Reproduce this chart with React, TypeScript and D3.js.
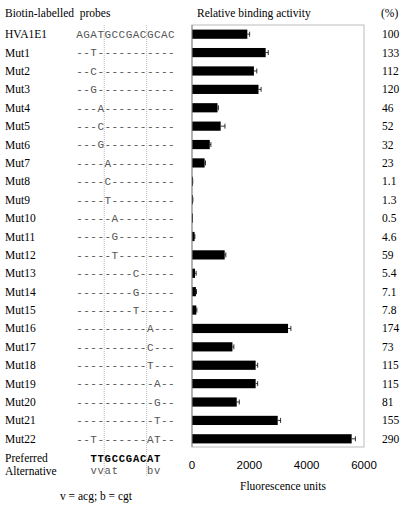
import React from 'react';
import * as d3 from 'd3';

// probe names, top to bottom
const probes = [
  'HVA1E1', 'Mut1', 'Mut2', 'Mut3', 'Mut4', 'Mut5', 'Mut6', 'Mut7', 'Mut8', 'Mut9', 'Mut10', 'Mut11',
  'Mut12', 'Mut13', 'Mut14', 'Mut15', 'Mut16', 'Mut17', 'Mut18', 'Mut19', 'Mut20', 'Mut21', 'Mut22',
];

const sequences = [
  'AGATGCCGACGCAC',
  '--T-----------',
  '--C-----------',
  '--G-----------',
  '---A----------',
  '---C----------',
  '---G----------',
  '----A---------',
  '----C---------',
  '----T---------',
  '-----A--------',
  '-----G--------',
  '-----T--------',
  '--------C-----',
  '--------G-----',
  '--------T-----',
  '----------A---',
  '----------C---',
  '----------T---',
  '-----------A--',
  '-----------G--',
  '-----------T--',
  '--T-------AT--',
];

// fluorescence units
const fluorescence = [
  1930, 2570, 2160, 2320, 890, 1000, 620, 440, 21, 25, 10, 90,
  1140, 105, 137, 150, 3350, 1410, 2220, 2220, 1560, 2990, 5570,
];

const errors = [
  80, 90, 100, 90, 30, 150, 40, 30, 5, 5, 5, 10,
  40, 40, 20, 20, 100, 50, 70, 70, 90, 100, 130,
];

const percents = [
  '100', '133', '112', '120', '46', '52', '32', '23', '1.1', '1.3', '0.5', '4.6',
  '59', '5.4', '7.1', '7.8', '174', '73', '115', '115', '81', '155', '290',
];

const xTicks = [0, 2000, 4000, 6000];

const preferred = '  TTGCCGACAT';
const alternative = '  vvat    bv';

const W = 403;
const H = 505;
const serif = '"Liberation Serif", "Times New Roman", serif';
const mono = '"Liberation Mono", "Courier New", monospace';
const sans = '"Liberation Sans", Arial, sans-serif';

export default function App() {
  const x = d3.scaleLinear().domain([0, 6000]).range([192, 364]);
  const y = d3.scaleBand<string>().domain(probes).range([25, 448]).paddingInner(0.5).paddingOuter(0.25);
  const cy = (p: string) => (y(p) || 0) + y.bandwidth() / 2;

  const seqX0 = 79.5;
  const cw = 7.07;
  const charX = d3.scaleLinear().domain([0, 1]).range([seqX0, seqX0 + cw]);

  const lastY = cy('Mut22');
  const prefY = lastY + 19.5;
  const altY = prefY + 12.5;

  const drawChars = (s: string, yy: number, fill: string, size: number, bold = false) =>
    s.split('').map((c, i) =>
      c === ' ' ? null : (
        <text key={i} x={charX(i)} y={yy} dy="0.35em" textAnchor="middle"
          fontFamily={mono} fontSize={size} fontWeight={bold ? 'bold' : 'normal'} fill={fill}>
          {c}
        </text>
      )
    );

  return (
    <div style={{ position: 'absolute', left: 0, top: 0 }}>
      <svg width={W} height={H} viewBox={`0 0 ${W} ${H}`} style={{ display: 'block', background: '#fff' }}>
        {/* headers */}
        <text x={5} y={13} dy="0.35em" fontFamily={serif} fontSize={11.5} fill="#000" style={{ whiteSpace: 'pre' }}>Biotin-labelled  probes</text>
        <text x={197} y={13} dy="0.35em" fontFamily={serif} fontSize={11.5} fill="#000">Relative binding activity</text>
        <text x={381} y={13} dy="0.35em" fontFamily={serif} fontSize={11.5} fill="#000">(%)</text>

        {/* dotted guide lines */}
        {[4, 10].map(i => (
          <line key={i} x1={charX(i) - cw / 2} x2={charX(i) - cw / 2} y1={25} y2={476}
            stroke="#999" strokeWidth={0.7} strokeDasharray="1,1" />
        ))}

        {/* probe names, sequences, percents */}
        {probes.map((p, i) => (
          <g key={p}>
            <text x={5} y={cy(p)} dy="0.35em" fontFamily={serif} fontSize={11.5} fill="#000">{p}</text>
            {drawChars(sequences[i], cy(p), '#555', 11)}
            <text x={382} y={cy(p)} dy="0.35em" fontFamily={serif} fontSize={11.5} fill="#000">{percents[i]}</text>
          </g>
        ))}

        <text x={5} y={prefY} dy="0.35em" fontFamily={serif} fontSize={11.5} fill="#000">Preferred</text>
        {drawChars(preferred, prefY, '#000', 10.5, true)}
        <text x={5} y={altY} dy="0.35em" fontFamily={serif} fontSize={11.5} fill="#000">Alternative</text>
        {drawChars(alternative, altY, '#555', 10.5)}
        <text x={96} y={496} dy="0.35em" textAnchor="middle" fontFamily={serif} fontSize={11.5} fill="#000">v = acg; b = cgt</text>

        {/* plot frame */}
        <rect x={x(0)} y={25} width={x(6000) - x(0)} height={422} fill="none" stroke="#bbb" strokeWidth={1} />

        {/* bars */}
        {probes.map((p, i) => {
          const v = fluorescence[i];
          const e = errors[i];
          const yy = y(p) || 0;
          const h = y.bandwidth();
          return (
            <g key={p}>
              <rect x={x(0)} y={yy} width={Math.max(1, x(v) - x(0))} height={h} fill="#000" />
              <line x1={x(v)} x2={x(v + e)} y1={yy + h / 2} y2={yy + h / 2} stroke="#000" strokeWidth={0.8} />
              <line x1={x(v + e)} x2={x(v + e)} y1={yy + h / 2 - 2.5} y2={yy + h / 2 + 2.5} stroke="#000" strokeWidth={0.8} />
            </g>
          );
        })}
        <line x1={x(0)} x2={x(0)} y1={25} y2={447} stroke="#888" strokeWidth={1} />

        {/* x axis */}
        {xTicks.map(t => (
          <text key={t} x={x(t)} y={465} dy="0.35em" textAnchor="middle" fontFamily={sans} fontSize={11.5} fill="#000">{t}</text>
        ))}
        <text x={283} y={486} dy="0.35em" textAnchor="middle" fontFamily={serif} fontSize={11.5} fill="#000">Fluorescence units</text>
      </svg>
    </div>
  );
}
